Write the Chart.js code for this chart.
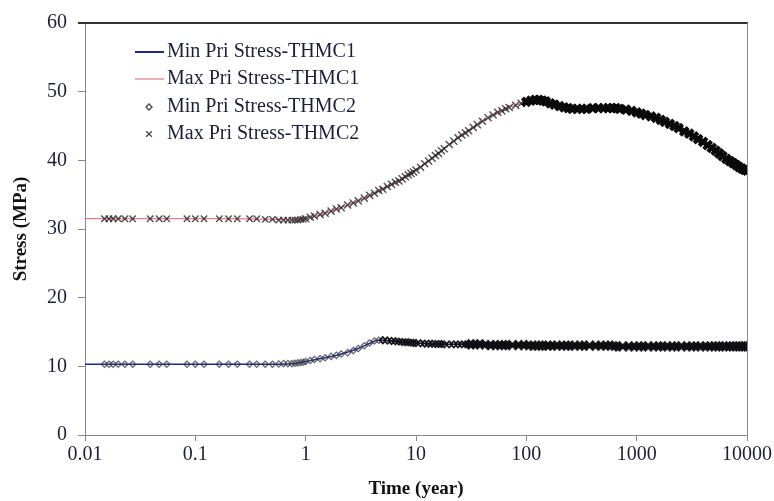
<!DOCTYPE html>
<html>
<head>
<meta charset="utf-8">
<script src="https://cdn.jsdelivr.net/npm/chart.js@4.4.1/dist/chart.umd.min.js"></script>
<style>
  html, body { margin: 0; padding: 0; background: #fff; }
</style>
</head>
<body>
<canvas id="myChart" width="774" height="501"></canvas>
<script>
// tick labels
var xTickValues = [0.01, 0.1, 1, 10, 100, 1000, 10000];
var xTickLabels = ['0.01', '0.1', '1', '10', '100', '1000', '10000'];
var yTickLabels = ['0', '10', '20', '30', '40', '50', '60'];

var seriesNames = ['Min Pri Stress-THMC1', 'Max Pri Stress-THMC1', 'Min Pri Stress-THMC2', 'Max Pri Stress-THMC2'];

// THMC1 (lines)
var timeTHMC1 = [0.01, 0.02, 0.05, 0.1, 0.2, 0.5, 0.8, 1, 1.5, 2, 3, 4, 4.5, 5, 7, 10, 15, 20, 30, 50,
  70, 100, 130, 170, 250, 400, 700, 1000, 1500, 2000, 3000, 4000, 5000, 7000, 10000];
var minTHMC1 = [10.3, 10.3, 10.3, 10.3, 10.3, 10.3, 10.4, 10.7, 11.25, 11.7, 12.6, 13.5, 13.8, 13.8, 13.6, 13.4, 13.25, 13.2, 13.2, 13.1,
  13.1, 13.1, 13.0, 13.0, 13.0, 13.0, 12.9, 12.9, 12.9, 12.9, 12.9, 12.9, 12.9, 12.9, 12.9];
var maxTHMC1 = [31.5, 31.5, 31.5, 31.5, 31.5, 31.4, 31.3, 31.5, 32.3, 33.0, 34.1, 35.0, 35.4, 35.8, 37.0, 38.6, 40.7, 42.3, 44.3, 46.6,
  47.7, 48.5, 48.8, 48.4, 47.6, 47.6, 47.5, 47.0, 46.2, 45.3, 43.9, 42.7, 41.5, 39.9, 38.5];

// THMC2 (markers)
var timeTHMC2 = [
  0.015, 0.0165, 0.018, 0.02, 0.023, 0.027, 0.039, 0.047, 0.055, 0.084,
  0.1, 0.12, 0.165, 0.2, 0.24, 0.31, 0.36, 0.43, 0.5, 0.57,
  0.63, 0.69, 0.75, 0.8, 0.85, 0.9, 0.95, 1.0, 1.1, 1.2,
  1.35, 1.5, 1.7, 1.9, 2.1, 2.4, 2.7, 3.0, 3.4, 3.8,
  4.2, 4.6, 5.0, 5.5, 6, 6.5, 7, 7.5, 8, 8.5,
  9, 9.5, 10, 11, 12, 13, 14, 15, 16, 17,
  18, 20, 22, 24, 26, 28, 30, 33, 36, 40,
  45, 50, 55, 60, 65, 70, 80, 90, 100, 110,
  120, 130, 140, 150, 165, 180, 200, 220, 240, 260,
  290, 320, 350, 400, 450, 500, 550, 600, 650, 700,
  800, 900, 1000, 1100, 1200, 1350, 1500, 1650, 1800, 2000,
  2200, 2400, 2700, 3000, 3300, 3600, 4000, 4400, 4800, 5200,
  5600, 6000, 6500, 7000, 7500, 8000, 8500, 9000, 9500, 10000
];
var minTHMC2 = [
  10.3, 10.3, 10.3, 10.3, 10.3, 10.3, 10.3, 10.3, 10.3, 10.3,
  10.3, 10.3, 10.3, 10.3, 10.3, 10.3, 10.3, 10.3, 10.3, 10.35,
  10.4, 10.4, 10.4, 10.45, 10.5, 10.55, 10.6, 10.7, 10.85, 11.0,
  11.1, 11.25, 11.45, 11.6, 11.8, 12.0, 12.3, 12.6, 13.0, 13.4,
  13.7, 13.8, 13.8, 13.75, 13.7, 13.65, 13.6, 13.55, 13.5, 13.5,
  13.45, 13.4, 13.4, 13.35, 13.3, 13.3, 13.3, 13.25, 13.25, 13.25,
  13.2, 13.2, 13.2, 13.2, 13.2, 13.2, 13.2, 13.2, 13.2, 13.2,
  13.1, 13.1, 13.1, 13.1, 13.1, 13.1, 13.1, 13.1, 13.1, 13.0,
  13.0, 13.0, 13.0, 13.0, 13.0, 13.0, 13.0, 13.0, 13.0, 13.0,
  13.0, 13.0, 13.0, 13.0, 13.0, 13.0, 13.0, 13.0, 12.9, 12.9,
  12.9, 12.9, 12.9, 12.9, 12.9, 12.9, 12.9, 12.9, 12.9, 12.9,
  12.9, 12.9, 12.9, 12.9, 12.9, 12.9, 12.9, 12.9, 12.9, 12.9,
  12.9, 12.9, 12.9, 12.9, 12.9, 12.9, 12.9, 12.9, 12.9, 12.9
];
var maxTHMC2 = [
  31.5, 31.5, 31.5, 31.5, 31.5, 31.5, 31.5, 31.5, 31.5, 31.5,
  31.5, 31.5, 31.5, 31.5, 31.5, 31.5, 31.5, 31.4, 31.4, 31.3,
  31.3, 31.3, 31.3, 31.3, 31.3, 31.4, 31.4, 31.5, 31.7, 31.9,
  32.1, 32.3, 32.6, 32.9, 33.1, 33.5, 33.8, 34.1, 34.5, 34.9,
  35.2, 35.6, 35.8, 36.2, 36.5, 36.8, 37.0, 37.3, 37.6, 37.9,
  38.1, 38.3, 38.6, 39.0, 39.5, 39.9, 40.3, 40.7, 41.0, 41.4,
  41.7, 42.3, 42.8, 43.3, 43.7, 44.0, 44.3, 44.8, 45.2, 45.7,
  46.2, 46.6, 47.0, 47.2, 47.5, 47.7, 48.0, 48.3, 48.5, 48.7,
  48.8, 48.8, 48.7, 48.6, 48.3, 48.1, 47.9, 47.7, 47.6, 47.5,
  47.5, 47.5, 47.5, 47.6, 47.6, 47.6, 47.6, 47.6, 47.6, 47.5,
  47.4, 47.2, 47.0, 46.8, 46.6, 46.4, 46.2, 45.9, 45.6, 45.3,
  45.0, 44.7, 44.2, 43.9, 43.5, 43.1, 42.7, 42.2, 41.8, 41.4,
  41.0, 40.6, 40.2, 39.9, 39.6, 39.3, 39.0, 38.8, 38.6, 38.5
];

function toPoints(xs, ys) {
  return xs.map(function (x, i) { return { x: x, y: ys[i] }; });
}

// marker look gets heavier where the THMC2 output is dense
function tOf(c) { return c.raw ? c.raw.x : 0; }

var serif = '"Liberation Serif", "DejaVu Serif", serif';
var textColor = '#1c1f3a';

// legend drawn inside the plot, top left
var insideLegend = {
  id: 'insideLegend',
  afterDatasetsDraw: function (chart) {
    var ctx = chart.ctx;
    var rows = [52, 79, 107, 134];
    ctx.save();
    ctx.lineWidth = 2;
    ctx.strokeStyle = '#1e2a80';
    ctx.beginPath(); ctx.moveTo(135, rows[0]); ctx.lineTo(164, rows[0]); ctx.stroke();
    ctx.lineWidth = 1;
    ctx.strokeStyle = '#e05a6a';
    ctx.beginPath(); ctx.moveTo(135, rows[1]); ctx.lineTo(164, rows[1]); ctx.stroke();
    ctx.strokeStyle = '#444';
    ctx.fillStyle = 'rgba(255,255,255,0)';
    ctx.lineWidth = 1.3;
    Chart.helpers.drawPoint(ctx, { pointStyle: 'rectRot', radius: 3, borderWidth: 1.3 }, 149, rows[2]);
    Chart.helpers.drawPoint(ctx, { pointStyle: 'crossRot', radius: 4, borderWidth: 1.3 }, 149, rows[3]);
    ctx.fillStyle = textColor;
    ctx.font = '20px ' + serif;
    ctx.textBaseline = 'middle';
    ctx.textAlign = 'left';
    for (var i = 0; i < seriesNames.length; i++) {
      ctx.fillText(seriesNames[i], 167, rows[i]);
    }
    ctx.restore();
  }
};

// top and right frame lines
var frame = {
  id: 'frame',
  afterDraw: function (chart) {
    var a = chart.chartArea;
    var ctx = chart.ctx;
    ctx.save();
    ctx.strokeStyle = '#333';
    ctx.lineWidth = 2;
    ctx.beginPath(); ctx.moveTo(78, a.top); ctx.lineTo(a.right + 1, a.top); ctx.stroke();
    ctx.strokeStyle = '#888';
    ctx.lineWidth = 1;
    ctx.beginPath(); ctx.moveTo(a.right + 0.5, a.top); ctx.lineTo(a.right + 0.5, a.bottom + 6); ctx.stroke();
    ctx.restore();
  }
};

var ctx = document.getElementById('myChart').getContext('2d');
var myChart = new Chart(ctx, {
  type: 'scatter',
  data: {
    datasets: [
      {
        label: seriesNames[0],
        data: toPoints(timeTHMC1, minTHMC1),
        showLine: true,
        borderColor: '#1e2a80',
        borderWidth: 1.5,
        pointRadius: 0,
        cubicInterpolationMode: 'monotone',
        order: 2
      },
      {
        label: seriesNames[1],
        data: toPoints(timeTHMC1, maxTHMC1),
        showLine: true,
        borderColor: '#e05a6a',
        borderWidth: 1,
        pointRadius: 0,
        cubicInterpolationMode: 'monotone',
        order: 2
      },
      {
        label: seriesNames[2],
        data: toPoints(timeTHMC2, minTHMC2),
        showLine: false,
        pointStyle: 'rectRot',
        pointRadius: function (c) { return tOf(c) >= 30 ? 3.8 : 3.2; },
        pointBorderWidth: function (c) { return tOf(c) >= 30 ? 2.6 : (tOf(c) >= 5 ? 1.8 : 1.2); },
        borderColor: function (c) { return tOf(c) >= 5 ? 'rgba(15,15,20,0.95)' : 'rgba(60,60,75,0.8)'; },
        backgroundColor: function (c) { return tOf(c) >= 30 ? '#111' : 'rgba(255,255,255,0)'; },
        order: 1
      },
      {
        label: seriesNames[3],
        data: toPoints(timeTHMC2, maxTHMC2),
        showLine: false,
        pointStyle: 'crossRot',
        pointRadius: function (c) { return tOf(c) >= 100 ? 5.5 : (tOf(c) >= 1 ? 5 : 4.5); },
        pointBorderWidth: function (c) { return tOf(c) >= 100 ? 4.2 : 1.4; },
        borderColor: function (c) { return tOf(c) >= 100 ? '#0a0a0a' : 'rgba(40,35,40,0.8)'; },
        backgroundColor: '#111',
        order: 1
      }
    ]
  },
  options: {
    responsive: false,
    animation: false,
    layout: { padding: { top: 17, right: 27, left: 0, bottom: 0 } },
    plugins: {
      legend: { display: false },
      tooltip: { enabled: false }
    },
    scales: {
      x: {
        type: 'logarithmic',
        min: 0.01,
        max: 10000,
        afterBuildTicks: function (scale) {
          scale.ticks = xTickValues.map(function (v) { return { value: v }; });
        },
        afterFit: function (scale) { scale.height = 66; },
        ticks: {
          autoSkip: false,
          maxRotation: 0,
          padding: 2,
          color: textColor,
          font: { family: serif, size: 20 },
          callback: function (value) {
            var i = xTickValues.indexOf(value);
            return i >= 0 ? xTickLabels[i] : '';
          }
        },
        grid: { drawOnChartArea: false, drawTicks: true, tickLength: 6, color: '#888' },
        border: { color: '#888', width: 1 },
        title: {
          display: true,
          text: 'Time (year)',
          color: '#111',
          font: { family: serif, size: 19, weight: 'bold' },
          padding: { top: 0, bottom: 1 }
        }
      },
      y: {
        min: 0,
        max: 60,
        afterFit: function (scale) { scale.width = 85; },
        ticks: {
          stepSize: 10,
          padding: 11,
          color: textColor,
          font: { family: serif, size: 20 },
          callback: function (value) {
            return yTickLabels[Math.round(value / 10)];
          }
        },
        grid: { drawOnChartArea: false, drawTicks: true, tickLength: 7, color: '#888' },
        border: { color: '#888', width: 1 },
        title: {
          display: true,
          text: 'Stress (MPa)',
          color: '#111',
          font: { family: serif, size: 19, weight: 'bold' },
          padding: { top: 10, bottom: 0 }
        }
      }
    }
  },
  plugins: [insideLegend, frame]
});
</script>
</body>
</html>
